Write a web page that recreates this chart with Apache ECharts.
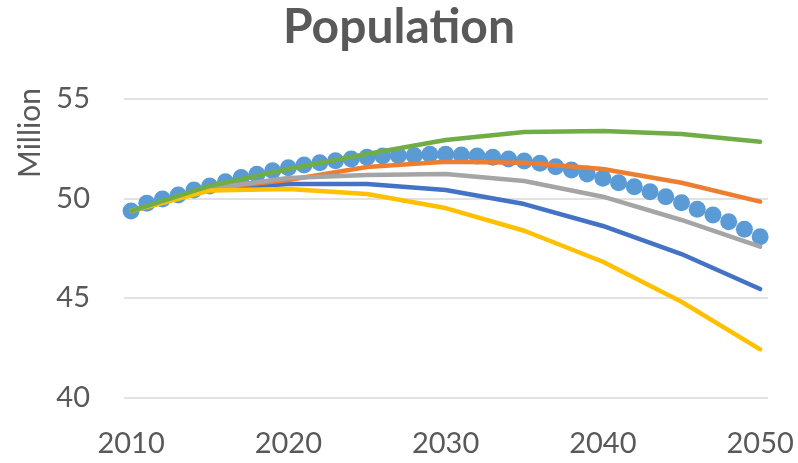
<!DOCTYPE html>
<html>
<head>
<meta charset="utf-8">
<script src="https://cdn.jsdelivr.net/npm/echarts@6/dist/echarts.min.js"></script>
<style>
html,body{margin:0;padding:0;background:#fff;}
#c{width:798px;height:463px;}
</style>
</head>
<body>
<div id="c"></div>
<script>
const years5 = [2010, 2015, 2020, 2025, 2030, 2035, 2040, 2045, 2050];
const blue   = [49.37, 50.45, 50.73, 50.73, 50.43, 49.72, 48.62, 47.21, 45.45];
const orange = [49.37, 50.5, 50.93, 51.58, 51.85, 51.8, 51.48, 50.79, 49.84];
const gray   = [49.37, 50.5, 51.03, 51.18, 51.23, 50.88, 50.09, 48.92, 47.58];
const yellow = [49.37, 50.4, 50.48, 50.23, 49.52, 48.38, 46.82, 44.81, 42.42];
const green  = [49.37, 50.63, 51.48, 52.24, 52.94, 53.34, 53.39, 53.24, 52.85];
const yearsAnnual = [];
for (let y = 2010; y <= 2050; y++) yearsAnnual.push(y);
const annual = [49.37, 49.76, 49.97, 50.18, 50.43, 50.63, 50.84, 51.05, 51.22, 51.4,
  51.55, 51.68, 51.8, 51.9, 51.98, 52.07, 52.14, 52.16, 52.16, 52.22,
  52.22, 52.19, 52.14, 52.07, 51.98, 51.88, 51.77, 51.6, 51.43, 51.23,
  51.02, 50.79, 50.59, 50.34, 50.09, 49.79, 49.46, 49.17, 48.83, 48.45, 48.08];
const xTicks = [2010, 2020, 2030, 2040, 2050];
const titleText = 'Population';
const yName = 'Million';

const FONT = 'Lato';
const TXT = '#595959';
const zip = (xs, ys) => xs.map((x, i) => [x, ys[i]]);
const lineSeries = (name, color, vals) => ({
  name, type: 'line', data: zip(years5, vals), symbol: 'none', smooth: false,
  lineStyle: { color, width: 4.5, cap: 'round', join: 'round' }, itemStyle: { color }
});

const chart = echarts.init(document.getElementById('c'));
chart.setOption({
  animation: false,
  backgroundColor: '#fff',
  title: {
    text: titleText, left: 'center', top: -1,
    textStyle: { fontFamily: FONT, fontWeight: 'bold', fontSize: 48, color: TXT }
  },
  graphic: [{
    type: 'text', x: 30, y: 133, rotation: Math.PI / 2,
    style: { text: yName, fontFamily: FONT, fontSize: 30, fill: TXT, align: 'center', verticalAlign: 'middle' }
  }],
  grid: { left: 124, right: 30, top: 99, bottom: 65.5 },
  xAxis: {
    type: 'value', min: 2009.55, max: 2050.5,
    axisLine: { show: false }, axisTick: { show: false }, splitLine: { show: false },
    axisLabel: { customValues: xTicks, formatter: v => String(v), fontFamily: FONT, fontSize: 29, color: TXT, margin: 32 }
  },
  yAxis: {
    type: 'value', min: 40, max: 55, interval: 5,
    axisLine: { show: false }, axisTick: { show: false },
    splitLine: { lineStyle: { color: '#D9D9D9', width: 1.5 } },
    axisLabel: { fontFamily: FONT, fontSize: 29, color: TXT, margin: 34 }
  },
  series: [
    lineSeries('Blue', '#4472C4', blue),
    lineSeries('Orange', '#ED7D31', orange),
    lineSeries('Gray', '#A5A5A5', gray),
    lineSeries('Yellow', '#FFC000', yellow),
    {
      name: 'Annual', type: 'scatter', data: zip(yearsAnnual, annual),
      symbol: 'circle', symbolSize: 17, itemStyle: { color: '#5B9BD5', opacity: 1 }
    },
    lineSeries('Green', '#70AD47', green)
  ]
});
</script>
</body>
</html>
